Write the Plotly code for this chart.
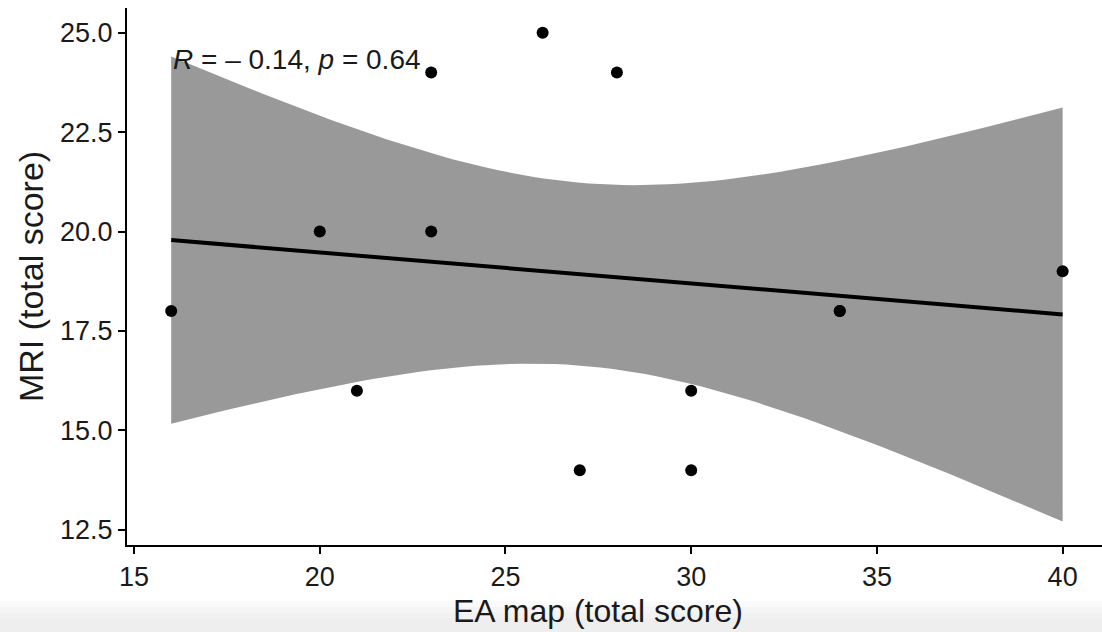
import numpy as np
import plotly.graph_objects as go

# Data (one point at (34, 18) is plotted twice)
ea_map = [16, 20, 21, 23, 23, 26, 27, 28, 30, 30, 34, 34, 40]
mri = [18, 20, 16, 24, 20, 25, 14, 24, 16, 14, 18, 18, 19]

x_ticks = [15, 20, 25, 30, 35, 40]
y_ticks = [12.5, 15.0, 17.5, 20.0, 22.5, 25.0]
y_tick_text = ["12.5", "15.0", "17.5", "20.0", "22.5", "25.0"]

# Linear fit with 95% confidence band (as geom_smooth(method = "lm"))
x = np.array(ea_map, dtype=float)
y = np.array(mri, dtype=float)
n = len(x)
slope, intercept = np.polyfit(x, y, 1)
resid = y - (intercept + slope * x)
s = np.sqrt(np.sum(resid ** 2) / (n - 2))
t_crit = 2.200985  # t(0.975, df = 11)
xs = np.linspace(x.min(), x.max(), 80)
fit = intercept + slope * xs
se = s * np.sqrt(1 / n + (xs - x.mean()) ** 2 / np.sum((x - x.mean()) ** 2))
upper = fit + t_crit * se
lower = fit - t_crit * se
r = np.corrcoef(x, y)[0, 1]

FONT = "Liberation Sans, Arial, sans-serif"
TXT = "#1a1a1a"

fig = go.Figure()
fig.add_trace(go.Scatter(
    x=np.concatenate([xs, xs[::-1]]), y=np.concatenate([upper, lower[::-1]]),
    fill="toself", fillcolor="#999999", line=dict(width=0), mode="lines",
    hoverinfo="skip", showlegend=False))
fig.add_trace(go.Scatter(x=xs, y=fit, mode="lines",
                         line=dict(color="black", width=4), showlegend=False))
fig.add_trace(go.Scatter(x=ea_map, y=mri, mode="markers",
                         marker=dict(color="black", size=12), showlegend=False))

fig.add_annotation(
    x=16, y=24.33, xref="x", yref="y", xanchor="left", yanchor="middle",
    text="<i>R</i> = \u2013 %.2f, <i>p</i> = 0.64" % abs(r), showarrow=False,
    font=dict(family=FONT, size=28, color=TXT))

# x-axis title (placed as in the reference)
fig.add_annotation(
    x=0.483, y=-0.122, xref="paper", yref="paper", xanchor="center", yanchor="middle",
    text="EA map (total score)", showarrow=False,
    font=dict(family=FONT, size=32, color=TXT))

# light grey fading strip at the very bottom of the picture
strip_edges = [-0.105, -0.115, -0.125, -0.135, -0.162]
strip_colours = ["#fafafa", "#f5f5f5", "#f1f1f1", "#eeeeee"]
for y_top, y_bot, col in zip(strip_edges[:-1], strip_edges[1:], strip_colours):
    fig.add_shape(type="rect", xref="paper", yref="paper", x0=-0.2, x1=1.0,
                  y0=y_bot, y1=y_top, line=dict(width=0), fillcolor=col, layer="below")

fig.update_layout(
    width=1102, height=632,
    margin=dict(l=127, r=0, t=8, b=87),
    paper_bgcolor="white", plot_bgcolor="white",
    font=dict(family=FONT, color=TXT),
    xaxis=dict(range=[14.81, 41.06], tickvals=x_ticks, showgrid=False, zeroline=False,
               showline=True, linecolor="black", linewidth=2, ticks="outside",
               ticklen=7, tickwidth=2, tickcolor="black",
               tickfont=dict(size=27, color=TXT)),
    yaxis=dict(range=[12.12, 25.62], tickvals=y_ticks, ticktext=y_tick_text, showgrid=False,
               zeroline=False, showline=True, linecolor="black", linewidth=2, ticks="outside",
               ticklen=7, tickwidth=2, tickcolor="black",
               tickfont=dict(size=27, color=TXT),
               title=dict(text="MRI (total score)", font=dict(size=34, color=TXT), standoff=6)),
)

fig.write_html("out.html")
